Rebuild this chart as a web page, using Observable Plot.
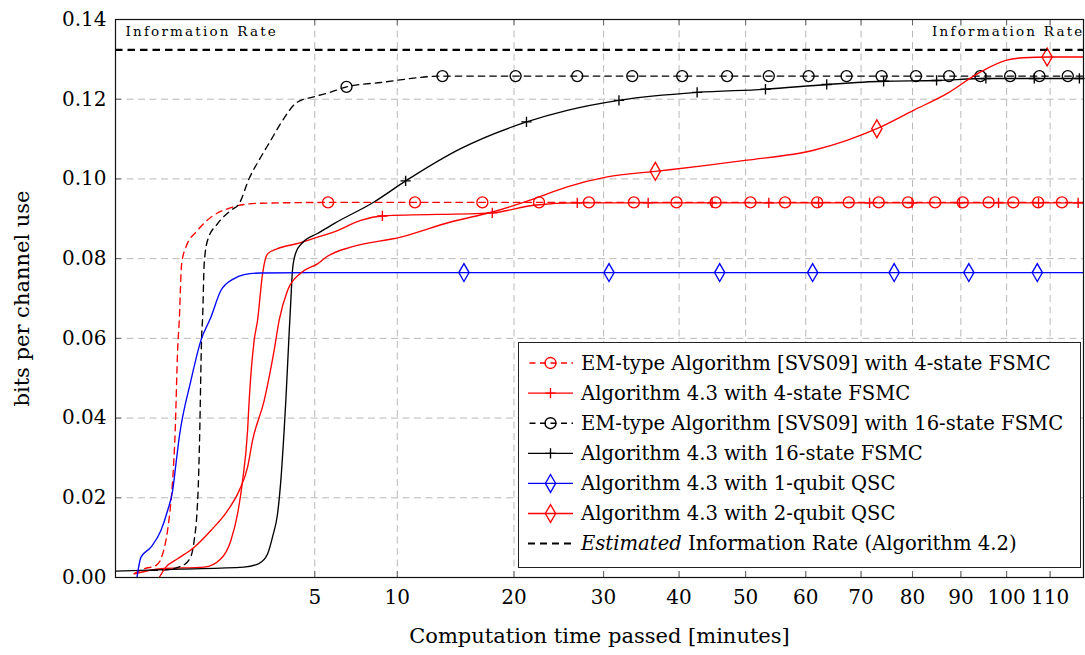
<!DOCTYPE html>
<html><head><meta charset="utf-8">
<script src="https://cdn.jsdelivr.net/npm/d3@7"></script>
<script src="https://cdn.jsdelivr.net/npm/@observablehq/plot@0.6"></script>
<style>
body{margin:0;background:#fff;}
#wrap{position:relative;width:1085px;height:655px;font-family:"DejaVu Serif",serif;}
#legend{position:absolute;left:518px;top:342px;width:563px;height:226px;border:1.3px solid #222;background:#fff;box-sizing:border-box;}
</style></head><body><div id="wrap"></div><script>
// ---- data (minutes, bits per channel use) ----
const xTicks = [5,10,20,30,40,50,60,70,80,90,100,110];
const yTicks = [0,0.02,0.04,0.06,0.08,0.10,0.12,0.14];
const infoRate = 0.1324;

const em4Line = [[0.044,0.0010],[0.104,0.0022],[0.206,0.0030],[0.260,0.0047],[0.320,0.0093],[0.364,0.0151],[0.411,0.0243],[0.449,0.0369],[0.486,0.0570],[0.512,0.0645],[0.551,0.0787],[0.625,0.0829],[0.849,0.0871],[1.146,0.0904],[1.582,0.0925],[2.085,0.0936],[2.661,0.0939],[5.69,0.0941],[117.9,0.0941]];
const em4MarkX = [5.69,11.29,16.95,22.59,28.22,33.84,39.63,45.35,50.77,56.45,62.0,67.7,73.35,79.1,84.6,90.4,96.0,101.5,107.2,112.8];
const em4MarkY = 0.0941;

const alg4Line = [[0.044,0.0009],[0.260,0.0022],[0.991,0.0026],[1.399,0.0047],[1.677,0.0093],[1.877,0.0160],[2.034,0.0243],[2.197,0.0369],[2.250,0.0444],[2.421,0.0595],[2.541,0.0645],[2.723,0.0762],[2.911,0.0812],[3.307,0.0825],[4.172,0.0838],[5.138,0.0854],[6.017,0.0867],[7.575,0.0896],[8.97,0.0907],[17.88,0.0915],[22.04,0.0934],[26.85,0.0940],[117.9,0.0940]];
const alg4Marks = [[8.97,0.0907],[17.88,0.0915],[26.85,0.0940],[35.73,0.0940],[44.82,0.0940],[53.75,0.0940],[62.25,0.0940],[71.6,0.0940],[79.9,0.0940],[89.7,0.0940],[98.2,0.0940],[107.3,0.0940],[116.7,0.0940]];

const em16Line = [[0.158,0.0018],[0.299,0.0019],[0.568,0.0030],[0.716,0.0053],[0.780,0.0093],[0.835,0.0161],[0.862,0.0226],[0.891,0.0352],[0.934,0.0603],[0.956,0.0653],[0.991,0.0787],[1.068,0.0846],[1.313,0.0888],[1.677,0.0921],[1.926,0.0938],[2.250,0.1001],[2.661,0.1055],[3.039,0.1097],[3.442,0.1140],[4.172,0.1193],[4.952,0.1206],[5.837,0.1218],[6.72,0.1231],[8.86,0.1242],[13.46,0.1258],[117.9,0.1258]];
const em16Marks = [[6.72,0.1231],[13.46,0.1258],[20.16,0.1258],[26.85,0.1258],[33.63,0.1258],[40.44,0.1258],[47.1,0.1258],[53.75,0.1258],[60.5,0.1258],[67.3,0.1258],[73.9,0.1258],[80.7,0.1258],[87.5,0.1258],[94.2,0.1258],[100.8,0.1258],[107.5,0.1258],[114.2,0.1258]];

const alg16Line = [[0,0.0016],[0.539,0.0021],[2.075,0.0026],[2.588,0.0035],[2.911,0.0059],[3.118,0.0105],[3.307,0.0160],[3.442,0.0243],[3.581,0.0369],[3.654,0.0444],[3.796,0.0612],[3.871,0.0695],[3.946,0.0772],[4.095,0.0815],[4.404,0.0840],[5.138,0.0863],[6.017,0.0888],[8.418,0.0942],[10.606,0.0995],[15.00,0.1076],[21.28,0.1143],[25.70,0.1172],[31.90,0.1197],[42.60,0.1217],[53.18,0.1225],[63.75,0.1237],[74.28,0.1245],[84.96,0.1247],[95.46,0.1252],[106.33,0.1252],[117.9,0.1252]];
const alg16Marks = [[10.6,0.0995],[21.27,0.1143],[31.92,0.1197],[42.6,0.1217],[53.2,0.1225],[63.7,0.1237],[74.3,0.1245],[84.9,0.1247],[95.4,0.1252],[106.3,0.1252],[117.0,0.1252]];

const q1Line = [[0.058,0],[0.0817,0.0051],[0.158,0.0076],[0.260,0.0118],[0.342,0.0168],[0.411,0.0218],[0.460,0.0285],[0.512,0.0352],[0.716,0.0494],[0.919,0.0595],[1.146,0.0653],[1.399,0.0720],[1.774,0.0750],[2.085,0.0760],[2.661,0.0764],[5.837,0.0765],[117.9,0.0765]];
const q1MarkX = [15.29,30.67,45.97,61.2,76.35,91.7,107.0];
const q1MarkY = 0.0765;

const q2Line = [[0.241,0],[0.320,0.0026],[0.486,0.0047],[0.780,0.0076],[1.146,0.0118],[1.582,0.0168],[1.926,0.0218],[2.197,0.0277],[2.366,0.0344],[2.783,0.0444],[3.169,0.0570],[3.372,0.0645],[3.727,0.0720],[4.325,0.0764],[5.138,0.0787],[5.659,0.0806],[6.970,0.0829],[10.244,0.0854],[14.147,0.0892],[17.88,0.0917],[22.04,0.0950],[25.70,0.0980],[30.45,0.1005],[36.7,0.1019],[43.08,0.1032],[50.23,0.1047],[61.37,0.1072],[67.38,0.1097],[73.0,0.1126],[80.19,0.1172],[87.04,0.1214],[94.15,0.1268],[100.04,0.1298],[103.8,0.1304],[109.6,0.1306],[117.9,0.1306]];
const q2Marks = [[36.7,0.1019],[73.0,0.1126],[109.3,0.1306]];

const legendLabels = [
  "EM-type Algorithm [SVS09] with 4-state FSMC",
  "Algorithm 4.3 with 4-state FSMC",
  "EM-type Algorithm [SVS09] with 16-state FSMC",
  "Algorithm 4.3 with 16-state FSMC",
  "Algorithm 4.3 with 1-qubit QSC",
  "Algorithm 4.3 with 2-qubit QSC",
  "Estimated|Information Rate (Algorithm 4.2)"
];
const rateLabel = "Information Rate";

// ---- styles ----
const FONT = "'DejaVu Serif', 'Liberation Serif', serif";
const RED = "#ff0000", BLUE = "#0000ff", BLK = "#000000";
const LW = 1.35, DASH = "6.5,5";
const styles = [
  {color: RED, dash: DASH, sym: "circle"},
  {color: RED, dash: null, sym: "plus"},
  {color: BLK, dash: DASH, sym: "circle"},
  {color: BLK, dash: null, sym: "plus"},
  {color: BLUE, dash: null, sym: "diamond"},
  {color: RED, dash: null, sym: "diamond"},
  {color: BLK, dash: "7.5,5", sym: null, w: 2}
];
const symR = {circle: 5.5, plus: 3.4, diamond: 5.4};

const W = 1085, H = 655, mL = 115, mR = 2, mT = 19, mB = 78;
const pw = W - mL - mR, ph = H - mT - mB;

function line(data, s) {
  return Plot.line(data, {x: d => d[0], y: d => d[1], stroke: s.color, strokeWidth: LW,
    strokeDasharray: s.dash || undefined, curve: "monotone-x"});
}
function dots(data, s) {
  return Plot.dot(data, {x: d => d[0], y: d => d[1], symbol: () => s.sym, r: symR[s.sym],
    stroke: s.color, fill: "none", strokeWidth: LW});
}

const chart = Plot.plot({
  width: W, height: H, marginLeft: mL, marginRight: mR, marginTop: mT, marginBottom: mB,
  style: {fontFamily: FONT, fontSize: "20px", background: "white", color: "black", overflow: "visible"},
  x: {type: "sqrt", domain: [0, 118]},
  y: {domain: [0, 0.14]},
  symbol: {type: "identity"},
  marks: [
    Plot.gridX(xTicks, {stroke: "#b9b9b9", strokeOpacity: 1, strokeWidth: 1, strokeDasharray: "7,4.5"}),
    Plot.gridY(yTicks, {stroke: "#b9b9b9", strokeOpacity: 1, strokeWidth: 1, strokeDasharray: "7,4.5"}),
    Plot.tickX(xTicks, {x: d => d, stroke: "#666", insetTop: ph - 6}),
    Plot.tickX(xTicks, {x: d => d, stroke: "#666", insetBottom: ph - 6}),
    Plot.tickY(yTicks, {y: d => d, stroke: "#666", insetRight: pw - 6}),
    Plot.axisX(xTicks, {tickSize: 0, tickPadding: 12, fontSize: 20, label: null, tickFormat: d => String(d)}),
    Plot.axisY(yTicks, {tickSize: 0, tickPadding: 9, fontSize: 20, label: null, tickFormat: d => d.toFixed(2)}),
    line(em4Line, styles[0]),
    dots(em4MarkX.map(x => [x, em4MarkY]), styles[0]),
    line(alg4Line, styles[1]),
    dots(alg4Marks, styles[1]),
    line(em16Line, styles[2]),
    dots(em16Marks, styles[2]),
    line(alg16Line, styles[3]),
    dots(alg16Marks, styles[3]),
    line(q1Line, styles[4]),
    dots(q1MarkX.map(x => [x, q1MarkY]), styles[4]),
    line(q2Line, styles[5]),
    dots(q2Marks, styles[5]),
    Plot.ruleY([infoRate], {stroke: BLK, strokeWidth: 2.2, strokeDasharray: "7.5,5"}),
    Plot.text([rateLabel], {frameAnchor: "top-left", dx: 10, dy: 7, lineAnchor: "top", fontSize: 13.5}),
    Plot.text([rateLabel], {frameAnchor: "top-right", dx: 1, dy: 7, lineAnchor: "top", fontSize: 13.5}),
    Plot.text(["Computation time passed [minutes]"], {frameAnchor: "bottom", dy: 59, lineAnchor: "middle", fontSize: 21}),
    Plot.text(["bits per channel use"], {frameAnchor: "left", dx: -93, rotate: -90, textAnchor: "middle", lineAnchor: "middle", fontSize: 21}),
    Plot.frame({stroke: "#111", strokeWidth: 1.2})
  ]
});
d3.select(chart).selectAll("text").filter(function() { return this.textContent === rateLabel; })
  .attr("letter-spacing", "2.2px");
const wrap = document.getElementById("wrap");
wrap.appendChild(chart);

// ---- legend (inside plot, bottom right) ----
const leg = d3.select(wrap).append("div").attr("id", "legend");
const svg = leg.append("svg").attr("width", 561).attr("height", 224)
  .style("position", "absolute").style("left", "0px").style("top", "0px")
  .style("font-family", FONT).style("font-size", "19.6px");
styles.forEach((s, i) => {
  const cy = 20 + i * 30.1;
  const g = svg.append("g");
  g.append("line").attr("x1", 9).attr("x2", 54).attr("y1", cy).attr("y2", cy)
    .attr("stroke", s.color).attr("stroke-width", s.w || LW)
    .attr("stroke-dasharray", s.dash ? (s.sym ? "6,4.5" : "7,5") : null)
    .attr("stroke-dashoffset", s.dash && s.sym ? -1.5 : 0);
  if (s.sym) {
    const type = s.sym === "circle" ? d3.symbolCircle : s.sym === "plus" ? d3.symbolPlus : d3.symbolDiamond;
    const r = symR[s.sym];
    g.append("path").attr("transform", `translate(31.5,${cy})`)
      .attr("d", d3.symbol(type, Math.PI * r * r)())
      .attr("fill", "none").attr("stroke", s.color).attr("stroke-width", LW);
  }
  const t = g.append("text").attr("x", 62).attr("y", cy).attr("dy", "0.35em");
  const lab = legendLabels[i];
  if (lab.includes("|")) {
    const [a, b] = lab.split("|");
    t.append("tspan").attr("font-style", "italic").text(a);
    t.append("tspan").text(" " + b);
  } else t.text(lab);
});
</script></body></html>
